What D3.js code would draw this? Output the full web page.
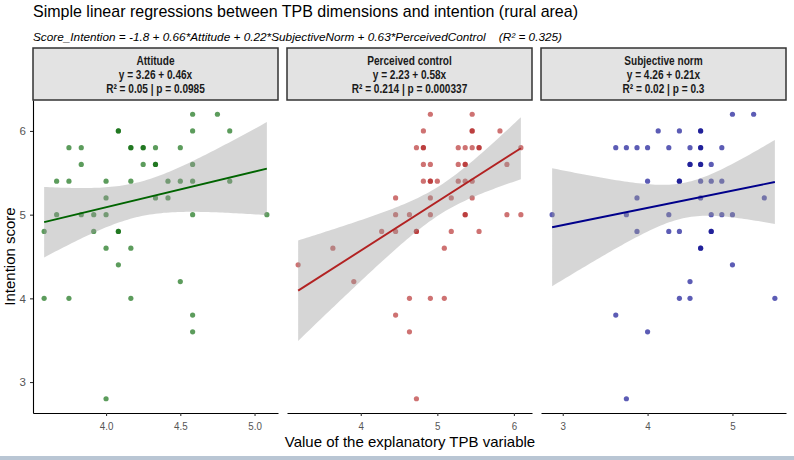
<!DOCTYPE html>
<html>
<head>
<meta charset="utf-8">
<script src="https://cdn.jsdelivr.net/npm/d3@7/dist/d3.min.js"></script>
<style>
  body { margin: 0; background: white; }
  svg { display: block; font-family: "Liberation Sans", Arial, sans-serif; }
</style>
</head>
<body>
<svg id="chart" width="794" height="460"></svg>
<script>
// panel labels, in facet order
var panelNames = ["Attitude", "Perceived control", "Subjective norm"];
var panelEquations = ["y = 3.26 + 0.46x", "y = 2.23 + 0.58x", "y = 4.26 + 0.21x"];
var panelStats = ["R\u00b2 = 0.05 | p = 0.0985", "R\u00b2 = 0.214 | p = 0.000337", "R\u00b2 = 0.02 | p = 0.3"];
var pointColors = ["#006400", "#b22222", "#00008b"];
var lineColors = ["#006400", "#b22222", "#00008b"];

// x tick values per panel
var xTicks = [[4.0, 4.5, 5.0], [4, 5, 6], [3, 4, 5]];
var xTickFormats = [".1f", "d", "d"];
var yTicks = [3, 4, 5, 6];

// Attitude
var attitudeX = [4.583, 4.75, 4.583, 4.833, 4.083, 4.083,
  3.75, 3.833, 4.167, 4.167, 4.25, 4.25, 4.333, 4.5,
  3.833, 4.25, 4.333, 4.333, 4.583,
  3.667, 3.75, 4.0, 4.167, 4.417, 4.5, 4.583, 4.833,
  4.0, 4.333, 4.417,
  3.667, 3.833, 3.917, 4.0, 4.583, 5.083,
  3.583, 3.917, 4.083, 4.083,
  4.0, 4.167, 4.083, 4.5,
  3.583, 3.75, 4.167, 4.583, 4.583, 4.0];
var attitudeY = [6.2, 6.2, 6.0, 6.0, 6.0, 6.0,
  5.8, 5.8, 5.8, 5.8, 5.8, 5.8, 5.8, 5.8,
  5.6, 5.6, 5.6, 5.6, 5.6,
  5.4, 5.4, 5.4, 5.4, 5.4, 5.4, 5.4, 5.4,
  5.2, 5.2, 5.2,
  5.0, 5.0, 5.0, 5.0, 5.0, 5.0,
  4.8, 4.8, 4.8, 4.8,
  4.6, 4.6, 4.4, 4.2,
  4.0, 4.0, 4.0, 3.8, 3.6, 2.8];

// Perceived control
var controlX = [4.909, 5.455, 4.818, 5.455, 5.455, 5.818,
  4.727, 4.818, 4.818, 5.273, 5.364, 5.455, 5.545, 5.545, 6.091,
  4.818, 4.909, 5.273, 5.364, 5.364, 5.909,
  4.818, 4.909, 4.909, 5.0, 5.273, 5.364, 5.455,
  4.455, 4.909, 5.182, 5.455,
  4.455, 4.636, 4.909, 5.364, 5.364, 5.909, 6.091,
  4.273, 4.455, 4.727, 4.727, 5.182, 5.545,
  3.636, 5.091, 3.182, 3.909,
  4.636, 4.909, 5.091, 4.455, 4.636, 4.727];
var controlY = [6.2, 6.2, 6.0, 6.0, 6.0, 6.0,
  5.8, 5.8, 5.8, 5.8, 5.8, 5.8, 5.8, 5.8, 5.8,
  5.6, 5.6, 5.6, 5.6, 5.6, 5.6,
  5.4, 5.4, 5.4, 5.4, 5.4, 5.4, 5.4,
  5.2, 5.2, 5.2, 5.2,
  5.0, 5.0, 5.0, 5.0, 5.0, 5.0, 5.0,
  4.8, 4.8, 4.8, 4.8, 4.8, 4.8,
  4.6, 4.6, 4.4, 4.2,
  4.0, 4.0, 4.0, 3.8, 3.6, 2.8];

// Subjective norm
var normX = [5.0, 5.25, 4.125, 4.375, 4.625, 4.625,
  3.625, 3.75, 3.875, 4.0, 4.25, 4.5, 4.625, 4.625, 4.875,
  4.5, 4.5, 4.625, 4.625, 4.75,
  4.0, 4.375, 4.375, 4.625, 4.75, 4.875,
  3.875, 4.625, 5.375,
  2.875, 3.75, 4.25, 4.75, 4.875, 5.0,
  3.875, 4.25, 4.375, 4.75, 4.75,
  4.625, 4.625, 5.0, 4.5,
  4.375, 4.5, 5.5, 3.625, 4.0, 3.75];
var normY = [6.2, 6.2, 6.0, 6.0, 6.0, 6.0,
  5.8, 5.8, 5.8, 5.8, 5.8, 5.8, 5.8, 5.8, 5.8,
  5.6, 5.6, 5.6, 5.6, 5.6,
  5.4, 5.4, 5.4, 5.4, 5.4, 5.4,
  5.2, 5.2, 5.2,
  5.0, 5.0, 5.0, 5.0, 5.0, 5.0,
  4.8, 4.8, 4.8, 4.8, 4.8,
  4.6, 4.6, 4.4, 4.2,
  4.0, 4.0, 4.0, 3.8, 3.6, 2.8];

var panelX = [attitudeX, controlX, normX];
var panelY = [attitudeY, controlY, normY];

var svg = d3.select("#chart");

var margin = { left: 33, top: 100, bottom: 413 };
var panelW = 245;
var panelGap = 9;
var stripTop = 48;

function expand(ext, f) {
  var d = (ext[1] - ext[0]) * f;
  return [ext[0] - d, ext[1] + d];
} // expand

// squeeze a text node horizontally (the reference font runs narrow)
function squeeze(sel, f) {
  sel.each(function() {
    var len = this.getComputedTextLength();
    d3.select(this)
      .attr("textLength", len * f)
      .attr("lengthAdjust", "spacingAndGlyphs");
  });
} // squeeze

// t quantile (0.975) by Cornish-Fisher expansion
function tQuant(df) {
  var z = 1.959964;
  return z + (z * z * z + z) / (4 * df)
    + (5 * Math.pow(z, 5) + 16 * Math.pow(z, 3) + 3 * z) / (96 * df * df);
} // tQuant

function fitLine(xs, ys) {
  var n = xs.length;
  var mx = d3.mean(xs);
  var my = d3.mean(ys);
  var sxx = 0;
  var sxy = 0;
  for(var i = 0; i < n; i += 1) {
    sxx += (xs[i] - mx) * (xs[i] - mx);
    sxy += (xs[i] - mx) * (ys[i] - my);
  }
  var b = sxy / sxx;
  var a = my - b * mx;
  var sse = 0;
  for(var j = 0; j < n; j += 1) {
    var r = ys[j] - (a + b * xs[j]);
    sse += r * r;
  }
  var s = Math.sqrt(sse / (n - 2));
  var t = tQuant(n - 2);
  return {
    predict: function(x) { return a + b * x; },
    half: function(x) { return t * s * Math.sqrt(1 / n + (x - mx) * (x - mx) / sxx); },
  };
} // fitLine

var allY = [].concat(attitudeY, controlY, normY);
var y = d3.scaleLinear()
  .domain(expand(d3.extent(allY), 0.05))
  .range([margin.bottom, margin.top]);

// title & subtitle
svg.append("text")
  .attr("x", 33)
  .attr("y", 17)
  .attr("font-size", "17px")
  .attr("fill", "black")
  .attr("textLength", 545)
  .attr("lengthAdjust", "spacingAndGlyphs")
  .text("Simple linear regressions between TPB dimensions and intention (rural area)");
svg.append("text")
  .attr("x", 33)
  .attr("y", 41)
  .attr("font-size", "11.5px")
  .attr("font-style", "italic")
  .attr("fill", "black")
  .style("white-space", "pre")
  .attr("textLength", 529)
  .attr("lengthAdjust", "spacingAndGlyphs")
  .text("Score_Intention = -1.8 + 0.66*Attitude + 0.22*SubjectiveNorm + 0.63*PerceivedControl    (R\u00b2 = 0.325)");

panelNames.forEach(function(name, p) {
  var left = margin.left + p * (panelW + panelGap);
  var xs = panelX[p];
  var ys = panelY[p];
  var ext = d3.extent(xs);
  var x = d3.scaleLinear()
    .domain(expand(ext, 0.05))
    .range([left, left + panelW]);

  var g = svg.append("g");

  // points
  g.selectAll("circle").data(xs).enter().append("circle")
    .attr("cx", function(d) { return x(d); })
    .attr("cy", function(d, i) { return y(ys[i]); })
    .attr("r", 2.6)
    .attr("fill", pointColors[p])
    .attr("fill-opacity", 0.64);

  // confidence band + line
  var fit = fitLine(xs, ys);
  var grid = d3.range(0, 81).map(function(i) { return ext[0] + (ext[1] - ext[0]) * i / 80; });
  g.append("path")
    .datum(grid)
    .attr("fill", "#999999")
    .attr("fill-opacity", 0.4)
    .attr("d", d3.area()
      .x(function(d) { return x(d); })
      .y0(function(d) { return y(fit.predict(d) - fit.half(d)); })
      .y1(function(d) { return y(fit.predict(d) + fit.half(d)); }));
  g.append("path")
    .datum(ext)
    .attr("fill", "none")
    .attr("stroke", lineColors[p])
    .attr("stroke-width", 1.9)
    .attr("d", d3.line()
      .x(function(d) { return x(d); })
      .y(function(d) { return y(fit.predict(d)); }));

  // x axis
  var xAxis = svg.append("g")
    .attr("transform", "translate(0," + margin.bottom + ")")
    .call(d3.axisBottom(x).tickValues(xTicks[p]).tickFormat(d3.format(xTickFormats[p]))
      .tickSizeOuter(0).tickSizeInner(3).tickPadding(6));
  xAxis.select(".domain").attr("stroke", "black").attr("stroke-width", 1.1);
  xAxis.selectAll(".tick line").attr("stroke", "#333333").attr("stroke-width", 1.1);
  xAxis.selectAll(".tick text")
    .attr("fill", "#555555")
    .attr("font-size", "11.5px")
    .attr("font-family", "Liberation Sans, Arial, sans-serif")
    .call(squeeze, 0.85);

  // y axis on first panel only
  if(p === 0) {
    var yAxis = svg.append("g")
      .attr("transform", "translate(" + left + ",0)")
      .call(d3.axisLeft(y).tickValues(yTicks).tickFormat(d3.format("d"))
        .tickSizeOuter(0).tickSizeInner(3).tickPadding(4));
    yAxis.select(".domain").attr("stroke", "black").attr("stroke-width", 1.1);
    yAxis.selectAll(".tick line").attr("stroke", "#333333").attr("stroke-width", 1.1);
    yAxis.selectAll(".tick text")
      .attr("fill", "#555555")
      .attr("font-size", "11.5px")
      .attr("font-family", "Liberation Sans, Arial, sans-serif");
  }

  // strip
  svg.append("rect")
    .attr("x", left)
    .attr("y", stripTop)
    .attr("width", panelW)
    .attr("height", margin.top - stripTop)
    .attr("fill", "#e3e3e3")
    .attr("stroke", "#333333")
    .attr("stroke-width", 1.5);
  var lines = [name, panelEquations[p], panelStats[p]];
  lines.forEach(function(txt, k) {
    svg.append("text")
      .attr("x", left + panelW / 2)
      .attr("y", stripTop + 16.5 + k * 14)
      .attr("text-anchor", "middle")
      .attr("font-size", "12.3px")
      .attr("font-weight", "bold")
      .attr("fill", "#1a1a1a")
      .text(txt)
      .call(squeeze, 0.82);
  });
}); // panels

// axis titles
svg.append("text")
  .attr("x", 410)
  .attr("y", 447)
  .attr("text-anchor", "middle")
  .attr("font-size", "15px")
  .attr("fill", "black")
  .text("Value of the explanatory TPB variable");
svg.append("text")
  .attr("transform", "translate(15," + ((margin.top + margin.bottom) / 2) + ") rotate(-90)")
  .attr("text-anchor", "middle")
  .attr("font-size", "15px")
  .attr("fill", "black")
  .text("Intention score");

// window edge below the chart
svg.append("rect")
  .attr("x", 0)
  .attr("y", 456)
  .attr("width", 794)
  .attr("height", 4)
  .attr("fill", "#b9c6d4");
</script>
</body>
</html>
